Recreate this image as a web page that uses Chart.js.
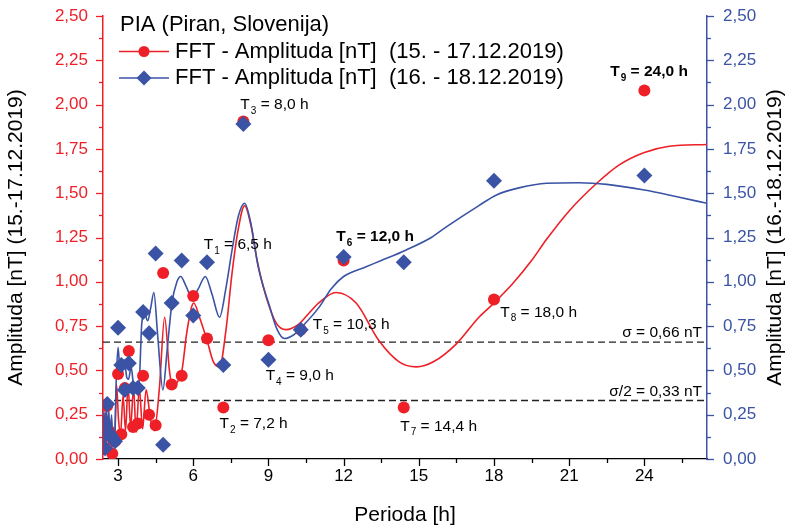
<!DOCTYPE html>
<html>
<head>
<meta charset="utf-8">
<script src="https://cdn.jsdelivr.net/npm/chart.js@4.4.1/dist/chart.umd.min.js"></script>
<style>
    html, body { margin: 0; padding: 0; background: #fff; }
</style>
</head>
<body>
<canvas id="fftChart" width="792" height="530"></canvas>
<script>
// FFT periods (72 h record / k, k = 3..30), in hours
const periods = [24.0, 18.0, 14.4, 12.0, 10.29, 9.0, 8.0, 7.2, 6.55, 6.0, 5.54, 5.14, 4.8, 4.5,
    4.24, 4.0, 3.79, 3.6, 3.43, 3.27, 3.13, 3.0, 2.88, 2.77, 2.67, 2.57, 2.48, 2.4];
// amplitudes [nT], 15.-17.12.2019
const ampRed = [2.08, 0.90, 0.29, 1.12, 0.73, 0.67, 1.905, 0.29, 0.68, 0.92, 0.47, 0.42, 1.05, 0.19,
    0.25, 0.47, 0.20, 0.18, 0.61, 0.40, 0.14, 0.48, 0.10, 0.03, 0.14, 0.30, 0.06, 0.13];
// amplitudes [nT], 16.-18.12.2019
const ampBlue = [1.60, 1.57, 1.11, 1.14, 0.73, 0.56, 1.89, 0.53, 1.11, 0.81, 1.12, 0.88, 0.08, 1.16,
    0.71, 0.83, 0.40, 0.40, 0.54, 0.39, 0.53, 0.74, 0.10, 0.12, 0.14, 0.31, 0.06, 0.13];

// smoothed spectra
const fitRedX = [2.40, 2.44, 2.49, 2.53, 2.58, 2.63, 2.68, 2.74, 2.80, 2.87, 2.94, 3.02, 3.10, 3.20,
    3.30, 3.40, 3.50, 3.62, 3.72, 3.85, 3.98, 4.12, 4.30, 4.45, 4.65, 4.86, 5.05, 5.18, 5.35, 5.55,
    5.75, 6.02, 6.25, 6.55, 6.80, 7.05, 7.30, 7.55, 7.80, 8.05, 8.30, 8.55, 8.90, 9.30, 9.70, 10.20,
    10.60, 11.00, 11.70, 12.50, 13.40, 14.20, 14.90, 15.60, 16.50, 17.40, 18.00, 18.75, 19.50, 20.10,
    21.00, 22.10, 23.00, 24.00, 25.00, 26.50];
const fitRedY = [0.22, 0.10, 0.26, 0.08, 0.24, 0.06, 0.22, 0.04, 0.18, 0.12, 0.42, 0.22, 0.14, 0.36,
    0.16, 0.42, 0.18, 0.40, 0.15, 0.40, 0.17, 0.39, 0.22, 0.16, 0.40, 0.80, 0.50, 0.41, 0.43, 0.50,
    0.72, 0.88, 0.80, 0.67, 0.55, 0.52, 0.72, 1.05, 1.30, 1.43, 1.32, 1.12, 0.92, 0.77, 0.73, 0.76,
    0.82, 0.88, 0.94, 0.88, 0.67, 0.55, 0.52, 0.55, 0.65, 0.80, 0.88, 0.99, 1.12, 1.24,
    1.40, 1.556, 1.66, 1.73, 1.765, 1.775];
const fitBlueX = [2.40, 2.44, 2.48, 2.53, 2.58, 2.63, 2.68, 2.74, 2.80, 2.87, 2.93, 3.00, 3.08, 3.15,
    3.25, 3.35, 3.42, 3.52, 3.62, 3.75, 3.85, 3.95, 4.06, 4.18, 4.30, 4.43, 4.58, 4.79, 4.95, 5.15,
    5.35, 5.50, 5.70, 5.95, 6.20, 6.48, 6.75, 7.05, 7.30, 7.55, 7.80, 8.05, 8.30, 8.60, 9.05, 9.35,
    9.64, 10.00, 10.30, 11.04, 11.50, 12.00, 12.90, 13.50, 14.50, 15.50, 16.10, 17.40, 18.10, 19.00,
    20.10, 21.40, 22.50, 24.00, 25.30, 26.50];
const fitBlueY = [0.10, 0.28, 0.06, 0.30, 0.12, 0.28, 0.10, 0.25, 0.08, 0.14, 0.45, 0.63, 0.50, 0.52,
    0.56, 0.46, 0.45, 0.52, 0.42, 0.40, 0.45, 0.77, 0.82, 0.78, 0.85, 0.94, 0.70, 0.39, 0.60, 0.88,
    1.00, 1.03, 0.98, 0.91, 0.96, 1.03, 0.93, 0.80, 0.96, 1.18, 1.37, 1.443, 1.33, 1.08, 0.86, 0.73,
    0.68, 0.70, 0.74, 0.86, 0.96, 1.03, 1.085, 1.12, 1.18, 1.25, 1.31, 1.43, 1.49, 1.53,
    1.556, 1.559, 1.55, 1.518, 1.48, 1.443];

const sigmaLevel = 0.66;
const halfSigmaLevel = 0.33;
const xRange = [2.4, 26.5];
const yRange = [0, 2.5];
const xMajorTicks = [3, 6, 9, 12, 15, 18, 21, 24];
const xMinorTicks = [4.5, 7.5, 10.5, 13.5, 16.5, 19.5, 22.5, 25.5];
const yMajorTicks = [0, 0.25, 0.5, 0.75, 1.0, 1.25, 1.5, 1.75, 2.0, 2.25, 2.5];

// peak labels, anchored in data units (period, amplitude)
const peakNotes = [
    { sub: '1', text: ' = 6,5 h', x: 6.42, y: 1.208 },
    { sub: '2', text: ' = 7,2 h', x: 7.05, y: 0.198 },
    { sub: '3', text: ' = 8,0 h', x: 7.88, y: 1.998 },
    { sub: '4', text: ' = 9,0 h', x: 8.89, y: 0.468 },
    { sub: '5', text: ' = 10,3 h', x: 10.77, y: 0.756 },
    { sub: '6', text: ' = 12,0 h', x: 11.71, y: 1.254, bold: true },
    { sub: '7', text: ' = 14,4 h', x: 14.26, y: 0.182 },
    { sub: '8', text: ' = 18,0 h', x: 18.25, y: 0.826 },
    { sub: '9', text: ' = 24,0 h', x: 22.64, y: 2.184, bold: true }
];

const RED = '#ee1f26';
const BLUE = '#3a53a4';
const FONT = '"Liberation Sans", Arial, sans-serif';

Chart.defaults.font.family = FONT;
Chart.defaults.color = '#000';

function toPoints(xs, ys) {
    return xs.map((x, i) => ({ x: x, y: ys[i] }));
}

function comma(v) {
    return v.toFixed(2).replace('.', ',');
}

// keep the plot box fixed: no extra room for overflowing tick labels
function fixScale(size, isHorizontal) {
    return scale => {
        if (isHorizontal) scale.height = size; else scale.width = size;
        scale.paddingTop = 0;
        scale.paddingBottom = 0;
        scale.paddingLeft = 0;
        scale.paddingRight = 0;
    };
}

function drawPeakNote(ctx, px, py, note) {
    const weight = note.bold ? 'bold ' : '';
    ctx.textAlign = 'left';
    ctx.textBaseline = 'middle';
    ctx.font = weight + '15.5px ' + FONT;
    ctx.fillText('T', px, py);
    let x = px + ctx.measureText('T').width + 1;
    ctx.font = weight + '10px ' + FONT;
    ctx.fillText(note.sub, x, py + 6);
    x += ctx.measureText(note.sub).width;
    ctx.font = weight + '15.5px ' + FONT;
    ctx.fillText(note.text, x, py);
}

// minor ticks, peak labels, sigma labels, right title and the legend
const extrasPlugin = {
    id: 'extras',
    afterDraw(chart) {
        const ctx = chart.ctx;
        const xs = chart.scales.x;
        const yl = chart.scales.y;
        const yr = chart.scales.y2;
        const area = chart.chartArea;
        ctx.save();

        // tick marks
        ctx.lineWidth = 1.3;
        ctx.strokeStyle = '#000';
        xMajorTicks.concat(xMinorTicks).forEach(v => {
            const px = Math.round(xs.getPixelForValue(v)) + 0.5;
            const len = xMajorTicks.includes(v) ? 7 : 4;
            ctx.beginPath();
            ctx.moveTo(px, area.bottom);
            ctx.lineTo(px, area.bottom + len);
            ctx.stroke();
        });
        yMajorTicks.forEach((v, i) => {
            const vals = [[v, 7]];
            if (i < yMajorTicks.length - 1) vals.push([v + 0.125, 4]);
            vals.forEach(([t, len]) => {
                const pl = Math.round(yl.getPixelForValue(t)) + 0.5;
                ctx.strokeStyle = RED;
                ctx.beginPath();
                ctx.moveTo(area.left, pl);
                ctx.lineTo(area.left - len, pl);
                ctx.stroke();
                const pr = Math.round(yr.getPixelForValue(t)) + 0.5;
                ctx.strokeStyle = BLUE;
                ctx.beginPath();
                ctx.moveTo(area.right, pr);
                ctx.lineTo(area.right + len, pr);
                ctx.stroke();
            });
        });

        // right axis title, read bottom-to-top like the left one
        ctx.save();
        ctx.translate(chart.width - 17, (area.top + area.bottom) / 2);
        ctx.rotate(-Math.PI / 2);
        ctx.font = '21px ' + FONT;
        ctx.fillStyle = '#000';
        ctx.textAlign = 'center';
        ctx.textBaseline = 'middle';
        ctx.fillText('Amplituda [nT] (16.-18.12.2019)', 0, 0);
        ctx.restore();

        // peak labels
        ctx.fillStyle = '#000';
        peakNotes.forEach(n => {
            drawPeakNote(ctx, xs.getPixelForValue(n.x), yl.getPixelForValue(n.y), n);
        });

        // sigma labels
        ctx.font = '15.5px ' + FONT;
        ctx.textAlign = 'right';
        ctx.textBaseline = 'middle';
        const rightX = area.right - 5;
        ctx.fillText('\u03c3 = ' + comma(sigmaLevel) + ' nT', rightX, yl.getPixelForValue(sigmaLevel) - 9);
        ctx.fillText('\u03c3/2 = ' + comma(halfSigmaLevel) + ' nT', rightX, yl.getPixelForValue(halfSigmaLevel) - 9);

        // legend
        const lx = area.left + 16;
        ctx.textAlign = 'left';
        ctx.font = '22px ' + FONT;
        ctx.fillText('PIA (Piran, Slovenija)', lx + 1, 25);
        const rows = [
            { color: RED, label: 'FFT - Amplituda [nT]  (15. - 17.12.2019)', y: 51.5, diamond: false },
            { color: BLUE, label: 'FFT - Amplituda [nT]  (16. - 18.12.2019)', y: 78, diamond: true }
        ];
        rows.forEach(r => {
            ctx.strokeStyle = r.color;
            ctx.fillStyle = r.color;
            ctx.lineWidth = 1.6;
            ctx.beginPath();
            ctx.moveTo(lx, r.y);
            ctx.lineTo(lx + 50, r.y);
            ctx.stroke();
            ctx.beginPath();
            if (r.diamond) {
                ctx.moveTo(lx + 25, r.y - 7.5);
                ctx.lineTo(lx + 32.5, r.y);
                ctx.lineTo(lx + 25, r.y + 7.5);
                ctx.lineTo(lx + 17.5, r.y);
                ctx.closePath();
            } else {
                ctx.arc(lx + 25, r.y, 5.5, 0, Math.PI * 2);
            }
            ctx.fill();
            ctx.fillStyle = '#000';
            ctx.fillText(r.label, lx + 56, r.y);
        });
        ctx.restore();
    }
};

const ctx = document.getElementById('fftChart').getContext('2d');
const fftChart = new Chart(ctx, {
    type: 'scatter',
    data: {
        datasets: [
            {
                label: 'sigma',
                data: [{ x: xRange[0], y: sigmaLevel }, { x: xRange[1], y: sigmaLevel }],
                showLine: true,
                borderColor: '#222',
                borderWidth: 1.3,
                borderDash: [7, 4],
                pointRadius: 0,
                yAxisID: 'y',
                order: 6
            },
            {
                label: 'sigma/2',
                data: [{ x: xRange[0], y: halfSigmaLevel }, { x: xRange[1], y: halfSigmaLevel }],
                showLine: true,
                borderColor: '#222',
                borderWidth: 1.3,
                borderDash: [7, 4],
                pointRadius: 0,
                yAxisID: 'y',
                order: 5
            },
            {
                label: 'fit 15.-17.12.2019',
                data: toPoints(fitRedX, fitRedY),
                showLine: true,
                borderColor: RED,
                borderWidth: 1.6,
                cubicInterpolationMode: 'monotone',
                pointRadius: 0,
                yAxisID: 'y',
                order: 4
            },
            {
                label: 'fit 16.-18.12.2019',
                data: toPoints(fitBlueX, fitBlueY),
                showLine: true,
                borderColor: BLUE,
                borderWidth: 1.6,
                cubicInterpolationMode: 'monotone',
                pointRadius: 0,
                yAxisID: 'y2',
                order: 3
            },
            {
                label: 'FFT - Amplituda [nT]  (15. - 17.12.2019)',
                data: toPoints(periods, ampRed),
                backgroundColor: RED,
                borderWidth: 0,
                pointRadius: 6,
                pointStyle: 'circle',
                yAxisID: 'y',
                order: 2
            },
            {
                label: 'FFT - Amplituda [nT]  (16. - 18.12.2019)',
                data: toPoints(periods, ampBlue),
                backgroundColor: BLUE,
                borderWidth: 0,
                pointRadius: 8,
                pointStyle: 'rectRot',
                yAxisID: 'y2',
                order: 1
            }
        ]
    },
    options: {
        responsive: false,
        animation: false,
        devicePixelRatio: 1,
        layout: { padding: { top: 16, left: 0, right: 0, bottom: 0 } },
        plugins: {
            legend: { display: false },
            tooltip: { enabled: false }
        },
        scales: {
            x: {
                type: 'linear',
                min: xRange[0],
                max: xRange[1],
                afterBuildTicks: scale => {
                    scale.ticks = xMajorTicks.map(v => ({ value: v }));
                },
                afterFit: fixScale(71, true),
                grid: { display: false, drawTicks: false },
                border: { display: true, color: '#000', width: 1.3 },
                ticks: {
                    color: '#000',
                    font: { size: 17 },
                    padding: 7,
                    maxRotation: 0,
                    autoSkip: false
                },
                title: {
                    display: true,
                    text: 'Perioda [h]',
                    color: '#000',
                    font: { size: 21 },
                    padding: 2
                }
            },
            y: {
                position: 'left',
                min: yRange[0],
                max: yRange[1],
                afterBuildTicks: scale => {
                    scale.ticks = yMajorTicks.map(v => ({ value: v }));
                },
                afterFit: fixScale(103, false),
                grid: { display: false, drawTicks: false },
                border: { display: true, color: RED, width: 1.5 },
                ticks: {
                    color: RED,
                    font: { size: 17 },
                    padding: 15,
                    callback: v => comma(v)
                },
                title: {
                    display: true,
                    text: 'Amplituda [nT] (15.-17.12.2019)',
                    color: '#000',
                    font: { size: 21 },
                    padding: 4
                }
            },
            y2: {
                position: 'right',
                min: yRange[0],
                max: yRange[1],
                afterBuildTicks: scale => {
                    scale.ticks = yMajorTicks.map(v => ({ value: v }));
                },
                afterFit: fixScale(85, false),
                grid: { display: false, drawTicks: false },
                border: { display: true, color: BLUE, width: 1.5 },
                ticks: {
                    color: BLUE,
                    font: { size: 17 },
                    padding: 16,
                    callback: v => comma(v)
                },
                title: { display: false }
            }
        }
    },
    plugins: [extrasPlugin]
});
</script>
</body>
</html>
